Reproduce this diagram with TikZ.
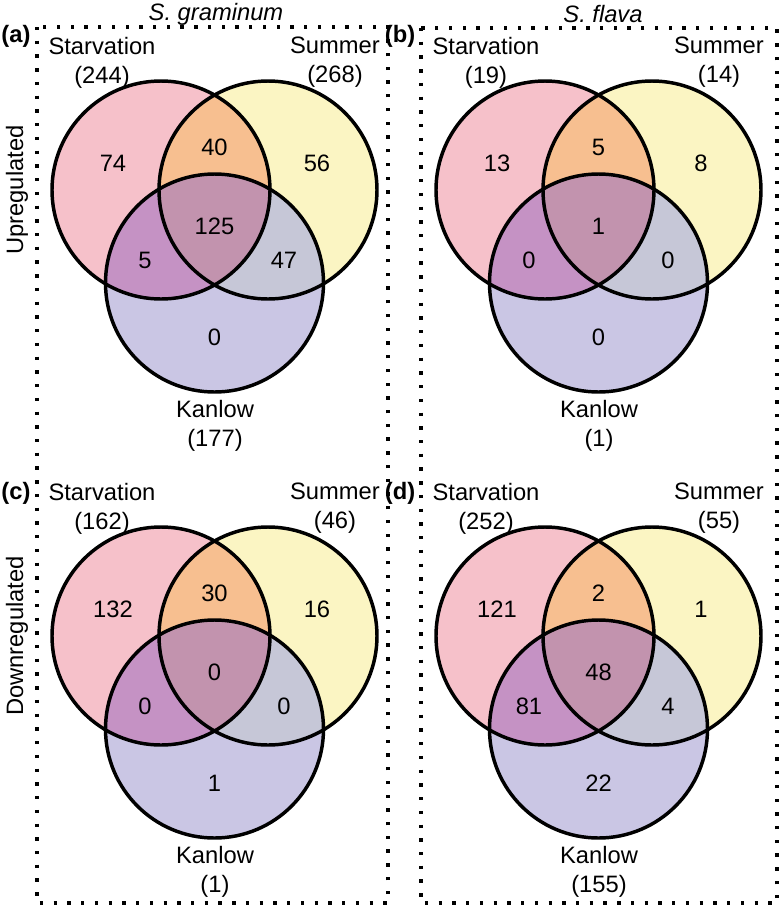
\documentclass[tikz,border=0pt]{standalone}
\usepackage{fontspec}
\setmainfont{Liberation Sans}
\usetikzlibrary{positioning}
\definecolor{VnPink}{HTML}{F6C1CA}
\definecolor{VnYellow}{HTML}{FBF5C3}
\definecolor{VnLav}{HTML}{CAC6E4}
\definecolor{VnOrange}{HTML}{F7BF90}
\definecolor{VnMauve}{HTML}{C592C4}
\definecolor{VnSlate}{HTML}{C6C7D7}
\definecolor{VnCore}{HTML}{C293AE}
\tikzset{
  vn/ring/.style={line width=2.6pt, draw=black},
  vn/num/.style={font=\fontsize{17.8}{21.75}\selectfont, inner sep=0pt},
  vn/lab/.style={font=\fontsize{17.8}{21.75}\selectfont, align=center, inner sep=0pt},
  vn/tag/.style={font=\fontsize{17.8}{21.75}\selectfont\bfseries, inner sep=0pt},
  vn/head/.style={font=\fontsize{17.8}{21.75}\selectfont\itshape, inner sep=0pt},
  vn/side/.style={font=\fontsize{17.8}{21.75}\selectfont, rotate=90, inner sep=0pt},
  vn/frame/.style={line width=2.5pt, line cap=butt, dash pattern=on 2.5pt off 7.8pt}
}
\def\vr{109}

\begin{document}
\begin{tikzpicture}[x=0.75pt,y=-0.75pt]
  \useasboundingbox (0,0) rectangle (780,908);
  % dotted frames, one per species
  \draw[vn/frame] (37,27) rectangle (388,903);
  \draw[vn/frame] (421,28) rectangle (777,903);
  \node[vn/head] (sg) at (216,14) {S. graminum};
  \node[vn/head] (sf) at (603,14) {S. flava};
  \node[vn/side] (up) at (17,190) {Upregulated};
  \node[vn/side] (down) at (17,636) {Downregulated};

  \foreach \tg/\dx/\dy/\ty/\ls/\lm/\lk/\ns/\nsm/\nm/\nsk/\nall/\nmk/\nk in {
    a/0/0/36/244/268/177/74/40/56/5/125/47/0,
    b/384/0/36/19/14/1/13/5/8/0/1/0/0,
    c/0/446/47/162/46/1/132/30/16/0/0/0/1,
    d/384/446/47/252/55/155/121/2/1/81/48/4/22}
  {
    \begin{scope}[shift={(\dx,\dy)}]
      \coordinate (cs-\tg) at (161,190);
      \coordinate (cm-\tg) at (268,190);
      \coordinate (ck-\tg) at (214.5,283);
      \fill[VnPink] (cs-\tg) circle[radius=\vr];
      \fill[VnYellow] (cm-\tg) circle[radius=\vr];
      \fill[VnLav] (ck-\tg) circle[radius=\vr];
      \begin{scope}
        \clip (cs-\tg) circle[radius=\vr];
        \fill[VnOrange] (cm-\tg) circle[radius=\vr];
        \fill[VnMauve] (ck-\tg) circle[radius=\vr];
      \end{scope}
      \begin{scope}
        \clip (cm-\tg) circle[radius=\vr];
        \fill[VnSlate] (ck-\tg) circle[radius=\vr];
      \end{scope}
      \begin{scope}
        \clip (cs-\tg) circle[radius=\vr];
        \clip (cm-\tg) circle[radius=\vr];
        \fill[VnCore] (ck-\tg) circle[radius=\vr];
      \end{scope}
      \draw[vn/ring] (cs-\tg) circle[radius=\vr];
      \draw[vn/ring] (cm-\tg) circle[radius=\vr];
      \draw[vn/ring] (ck-\tg) circle[radius=\vr];
      % set names and totals
      \node[vn/tag] (tag-\tg) at (16,\ty) {(\tg)};
      \node[vn/lab] (starv-\tg) at (102,62.5) {Starvation\\(\ls)};
      \node[vn/lab] (summ-\tg) at (335,62.5) {Summer\\(\lm)};
      \node[vn/lab] (kan-\tg) at (215,425.5) {Kanlow\\(\lk)};
      % region counts
      \node[vn/num] (ns-\tg) at (113,163) {\ns};
      \node[vn/num] (nsm-\tg) at (214.5,147) {\nsm};
      \node[vn/num] (nm-\tg) at (317,163) {\nm};
      \node[vn/num] (nsk-\tg) at (145,260) {\nsk};
      \node[vn/num] (nall-\tg) at (214.5,226) {\nall};
      \node[vn/num] (nmk-\tg) at (284,260) {\nmk};
      \node[vn/num] (nk-\tg) at (214.5,337) {\nk};
    \end{scope}
  }
\end{tikzpicture}
\end{document}
